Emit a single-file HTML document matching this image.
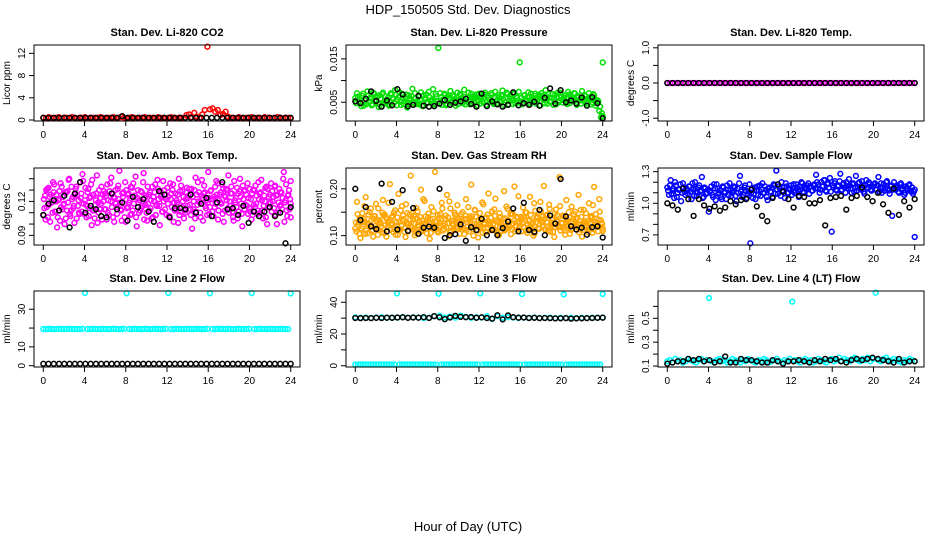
<!DOCTYPE html>
<html><head><meta charset="utf-8"><style>
html,body{margin:0;padding:0;background:#fff}
svg{display:block;font-family:"Liberation Sans",sans-serif}
</style></head><body>
<svg id="chart" width="936" height="540" viewBox="0 0 936 540" xmlns="http://www.w3.org/2000/svg">
<rect width="936" height="540" fill="#fff"/>
<text x="468" y="14" text-anchor="middle" font-size="13">HDP_150505  Std. Dev. Diagnostics</text>
<text x="468" y="531" text-anchor="middle" font-size="13">Hour of Day (UTC)</text>
</svg>
<script>
const xTicks = [0,4,8,12,16,20,24];
const co2Color = [0.4,0.3,0.5,0.4,0.3,0.4,0.5,0.3,0.4,0.4,0.3,0.5,0.4,0.3,0.4,0.4,0.5,0.3,0.4,0.4,0.3,0.4,0.5,0.4,0.3,0.4,0.4,0.5,0.3,0.4,0.6,0.4,0.3,0.4,0.5,0.4,0.3,0.4,0.4,0.5,0.3,0.4,0.4,0.3,0.5,0.4,0.4,0.3,0.4,0.5,0.4,0.3,0.4,0.4,0.3,0.9,1.0,0.5,1.3,0.6,0.4,1.0,1.8,13.2,1.9,2.1,1.5,1.8,0.9,1.1,1.5,0.6,0.4,0.4,0.3,0.5,0.4,0.3,0.4,0.4,0.5,0.3,0.4,0.4,0.3,0.5,0.4,0.4,0.3,0.4,0.5,0.4,0.3,0.4,0.4,0.3];
const co2Black = [0.4,0.4,0.4,0.4,0.4,0.4,0.4,0.4,0.4,0.4,0.4,0.4,0.4,0.4,0.4,0.7,0.4,0.4,0.4,0.4,0.4,0.4,0.4,0.4,0.4,0.4,0.4,0.4,0.4,0.4,0.4,0.4,0.4,0.4,0.4,0.4,0.4,0.4,0.4,0.4,0.4,0.4,0.4,0.4,0.4,0.4,0.4,0.4];
const presColor = [.0060,.0071,.0052,.0048,.0065,.0042,.0058,.0075,.0050,.0062,.0045,.0069,.0055,.0047,.0066,.0040,.0072,.0053,.0049,.0061,.0044,.0068,.0057,.0078,.0043,.0062,.0051,.0070,.0046,.0059,.0038,.0066,.0054,.0081,.0048,.0060,.0052,.0045,.0073,.0041,.0057,.0068,.0049,.0062,.0055,.0080,.0047,.0064,.0175,.0071,.0044,.0053,.0067,.0046,.0060,.0076,.0051,.0063,.0042,.0072,.0056,.0066,.0048,.0079,.0052,.0061,.0045,.0070,.0057,.0049,.0068,.0054,.0047,.0063,.0058,.0072,.0043,.0060,.0051,.0067,.0046,.0074,.0055,.0062,.0050,.0077,.0044,.0061,.0069,.0053,.0058,.0046,.0071,.0064,.0049,.0142,.0060,.0048,.0066,.0054,.0073,.0045,.0062,.0057,.0070,.0051,.0067,.0043,.0065,.0056,.0078,.0047,.0061,.0052,.0069,.0058,.0045,.0072,.0054,.0063,.0049,.0066,.0059,.0074,.0048,.0062,.0055,.0070,.0044,.0061,.0057,.0076,.0053,.0064,.0047,.0071,.0058,.0050,.0066,.0042,.0055,.0030,.0015,.0142];
const presColor2 = [.0048,.0063,.0057,.0041,.0070,.0054,.0046,.0066,.0059,.0043,.0072,.0051,.0062,.0039,.0058,.0069,.0047,.0064,.0055,.0042,.0071,.0060,.0049,.0067,.0056,.0073,.0044,.0061,.0052,.0068,.0045,.0059,.0064,.0050,.0071,.0046,.0063,.0055,.0042,.0066,.0060,.0048,.0074,.0053,.0057,.0045,.0069,.0051,.0047,.0062,.0056,.0070,.0043,.0065,.0058,.0049,.0067,.0054,.0061,.0046,.0069,.0050,.0063,.0045,.0058,.0072,.0053,.0047,.0064,.0060,.0043,.0070,.0059,.0052,.0068,.0044,.0065,.0056,.0071,.0049,.0062,.0047,.0067,.0053,.0064,.0058,.0050,.0072,.0046,.0063,.0055,.0069,.0048,.0060,.0074,.0052,.0045,.0066,.0057,.0062,.0049,.0070,.0054,.0065,.0047,.0059,.0063,.0071,.0058,.0048,.0064,.0069,.0052,.0060,.0044,.0067,.0061,.0050,.0072,.0056,.0062,.0053,.0046,.0068,.0063,.0057,.0071,.0049,.0065,.0054,.0047,.0060,.0066,.0051,.0058,.0062,.0045,.0069,.0055,.0048,.0052,.0040,.0025,.0018];
const presBlack = [.0052,.0048,.0058,.0075,.0053,.0040,.0054,.0043,.0080,.0068,.0041,.0044,.0065,.0042,.0040,.0041,.0047,.0055,.0044,.0049,.0052,.0058,.0046,.0040,.0070,.0041,.0052,.0045,.0040,.0044,.0073,.0043,.0048,.0044,.0051,.0042,.0060,.0082,.0047,.0078,.0050,.0054,.0047,.0061,.0042,.0062,.0048,.0013];
const tempColor = [0,0,0,0,0,0,0,0,0,0,0,0,0,0,0,0,0,0,0,0,0,0,0,0,0,0,0,0,0,0,0,0,0,0,0,0,0,0,0,0,0,0,0,0,0,0,0,0,0,0,0,0,0,0,0,0,0,0,0,0,0,0,0,0,0,0,0,0,0,0,0,0,0,0,0,0,0,0,0,0,0,0,0,0,0,0,0,0,0,0,0,0,0,0,0,0];
const tempBlack = [0,0,0,0,0,0,0,0,0,0,0,0,0,0,0,0,0,0,0,0,0,0,0,0,0,0,0,0,0,0,0,0,0,0,0,0,0,0,0,0,0,0,0,0,0,0,0,0];
const ambColor = [.108,.125,.115,.132,.102,.119,.128,.111,.097,.122,.136,.113,.118,.105,.129,.140,.112,.124,.101,.133,.116,.109,.127,.138,.121,.106,.131,.114,.099,.126,.117,.143,.110,.123,.104,.129,.113,.135,.108,.120,.127,.102,.118,.131,.147,.112,.124,.106,.130,.115,.121,.109,.136,.125,.098,.119,.112,.128,.145,.117,.103,.126,.114,.133,.120,.108,.139,.116,.124,.111,.130,.122,.118,.107,.127,.135,.112,.121,.101,.129,.115,.124,.110,.132,.125,.113,.096,.120,.141,.117,.128,.106,.123,.134,.114,.119,.109,.130,.122,.115,.138,.104,.126,.118,.131,.112,.121,.143,.116,.127,.103,.119,.132,.111,.124,.098,.129,.117,.136,.114,.122,.108,.130,.118,.112,.127,.139,.105,.120,.133,.115,.126,.111,.124,.134,.100,.119,.128,.113,.146,.121,.107,.130,.118];
const ambColor2 = [.122,.104,.131,.117,.126,.110,.135,.120,.106,.129,.115,.124,.100,.128,.119,.109,.133,.114,.126,.105,.121,.137,.111,.118,.132,.116,.107,.124,.139,.112,.121,.101,.130,.118,.126,.113,.125,.110,.129,.141,.106,.123,.115,.134,.119,.103,.128,.137,.114,.127,.108,.132,.118,.142,.123,.110,.129,.116,.104,.125,.133,.112,.121,.106,.128,.117,.131,.099,.126,.138,.113,.108,.124,.136,.115,.102,.127,.119,.140,.111,.129,.105,.122,.116,.131,.108,.124,.130,.111,.137,.119,.125,.103,.128,.121,.146,.115,.122,.107,.133,.126,.112,.119,.135,.102,.124,.130,.110,.127,.111,.138,.123,.105,.129,.118,.134,.113,.126,.109,.131,.104,.130,.115,.125,.137,.110,.121,.116,.132,.100,.124,.119,.129,.114,.108,.126,.131,.117,.123,.102,.135,.125,.113,.138];
const ambColor3 = [.114,.130,.106,.124,.119,.137,.111,.126,.121,.103,.133,.117,.128,.112,.139,.107,.122,.116,.131,.125,.110,.123,.144,.109,.117,.128,.123,.135,.112,.105,.127,.119,.113,.133,.120,.127,.104,.121,.136,.115,.124,.130,.109,.122,.113,.127,.118,.102,.126,.119,.133,.112,.125,.106,.130,.121,.114,.137,.123,.110,.118,.128,.105,.124,.135,.116,.122,.129,.111,.120,.126,.132,.107,.122,.130,.119,.113,.126,.108,.134,.120,.112,.128,.123,.117,.131,.113,.105,.126,.120,.110,.139,.127,.116,.108,.123,.129,.111,.124,.118,.136,.121,.128,.109,.125,.131,.114,.120,.133,.106,.121,.115,.127,.140,.109,.122,.130,.116,.123,.111,.127,.117,.134,.109,.122,.128,.112,.125,.106,.131,.118,.136,.120,.133,.125,.110,.116,.128,.140,.119,.112,.126,.122,.106];
const ambBlack = [.108,.118,.121,.112,.125,.097,.127,.137,.110,.116,.113,.107,.106,.127,.113,.119,.103,.124,.115,.122,.111,.102,.129,.126,.106,.114,.114,.113,.126,.110,.118,.123,.107,.119,.137,.113,.114,.108,.116,.101,.111,.107,.111,.115,.107,.110,.083,.115];
const rhColor = [.115,.172,.128,.095,.148,.136,.182,.105,.124,.158,.112,.141,.168,.102,.133,.119,.176,.145,.098,.127,.210,.139,.108,.154,.121,.189,.113,.163,.135,.097,.148,.125,.228,.117,.142,.106,.152,.131,.198,.110,.174,.124,.139,.093,.161,.118,.236,.129,.107,.146,.170,.121,.136,.187,.099,.158,.126,.112,.144,.165,.133,.117,.150,.103,.178,.128,.141,.209,.114,.155,.124,.096,.148,.120,.167,.137,.108,.190,.126,.152,.115,.179,.132,.101,.140,.122,.195,.113,.157,.131,.103,.146,.205,.119,.138,.127,.109,.160,.134,.149,.117,.183,.125,.100,.153,.141,.115,.172,.128,.206,.112,.145,.166,.120,.137,.097,.156,.130,.225,.118,.143,.111,.176,.129,.104,.162,.135,.151,.119,.187,.124,.098,.155,.127,.113,.169,.139,.106,.204,.146,.121,.178,.133,.110];
const rhColor2 = [.128,.146,.104,.137,.119,.163,.111,.125,.150,.133,.098,.142,.117,.158,.129,.107,.144,.122,.135,.170,.113,.126,.149,.102,.139,.115,.154,.131,.108,.167,.124,.145,.119,.136,.101,.159,.123,.140,.112,.178,.127,.105,.147,.134,.116,.152,.129,.109,.138,.121,.158,.114,.143,.126,.173,.110,.132,.149,.118,.137,.104,.146,.124,.135,.112,.161,.129,.141,.100,.154,.120,.133,.116,.171,.127,.108,.145,.123,.138,.114,.156,.131,.105,.148,.125,.136,.111,.162,.133,.119,.147,.126,.109,.140,.184,.121,.137,.118,.150,.106,.131,.144,.113,.169,.128,.139,.115,.152,.120,.135,.143,.111,.157,.124,.108,.147,.132,.118,.163,.127,.141,.102,.134,.150,.121,.115,.146,.129,.138,.107,.155,.124,.112,.148,.130,.118,.142,.165,.123,.136,.109,.151,.127,.115];
const rhColor3 = [.109,.123,.138,.115,.131,.104,.127,.145,.119,.110,.136,.121,.133,.112,.126,.149,.105,.139,.118,.131,.124,.142,.114,.128,.102,.130,.121,.143,.116,.127,.109,.134,.148,.113,.125,.137,.119,.108,.132,.124,.141,.115,.128,.106,.136,.122,.113,.144,.127,.135,.111,.126,.118,.139,.107,.131,.122,.145,.114,.129,.120,.132,.115,.143,.128,.109,.136,.119,.125,.140,.111,.123,.133,.106,.124,.139,.117,.130,.112,.125,.142,.108,.128,.118,.110,.127,.137,.115,.124,.146,.113,.132,.121,.129,.117,.140,.126,.139,.111,.123,.134,.120,.128,.105,.137,.116,.125,.131,.141,.114,.129,.120,.108,.133,.125,.118,.144,.121,.111,.136,.116,.128,.122,.139,.112,.130,.119,.135,.124,.113,.140,.127,.131,.120,.107,.126,.138,.114,.129,.121,.134,.118,.125,.110];
const rhBlack = [.200,.133,.161,.120,.114,.211,.109,.172,.113,.197,.110,.159,.104,.117,.119,.117,.200,.095,.101,.103,.124,.089,.118,.112,.136,.101,.112,.101,.116,.130,.158,.109,.170,.112,.108,.155,.101,.143,.126,.221,.141,.120,.113,.117,.102,.118,.120,.096];
const flowColor = [1.15,1.08,1.22,1.12,1.05,1.17,1.10,1.13,1.02,1.19,1.11,1.14,1.09,1.16,1.04,1.13,1.20,1.07,1.15,1.11,1.25,1.06,1.14,1.10,0.92,1.12,1.08,1.18,1.03,1.14,1.10,1.06,1.16,1.11,1.04,1.13,1.19,1.07,1.12,1.15,1.02,1.10,1.26,1.13,1.08,1.17,1.05,1.11,0.62,1.14,1.09,1.04,1.16,1.12,1.07,1.19,1.10,1.13,1.03,1.15,1.11,1.06,1.17,1.31,1.09,1.14,1.20,1.12,1.05,1.16,1.10,1.13,1.08,1.18,1.12,1.15,1.06,1.13,1.19,1.10,1.14,1.17,1.09,1.16,1.12,1.18,1.27,1.14,1.10,1.20,1.16,1.22,1.11,1.19,1.24,0.73,1.15,1.21,1.12,1.17,1.28,1.13,1.19,1.10,1.16,1.23,1.14,1.18,1.11,1.26,1.15,1.20,1.13,1.17,1.09,1.22,1.14,1.18,1.12,1.16,1.19,1.13,1.25,1.15,1.10,1.18,1.14,1.21,1.12,1.16,0.88,1.20,1.13,1.17,1.10,1.19,1.14,1.08,1.16,1.12,1.18,1.11,1.09,0.68];
const flowColor2 = [1.12,1.17,1.09,1.14,1.20,1.06,1.13,1.18,1.10,1.15,1.08,1.12,1.16,1.11,1.19,1.07,1.14,1.10,1.17,1.12,1.05,1.15,1.09,1.13,1.11,1.16,1.06,1.14,1.18,1.09,1.12,1.04,1.15,1.10,1.17,1.08,1.13,1.10,1.16,1.07,1.14,1.19,1.11,1.06,1.15,1.12,1.09,1.18,1.10,1.05,1.15,1.12,1.08,1.17,1.13,1.10,1.16,1.06,1.14,1.11,1.15,1.18,1.09,1.13,1.16,1.07,1.12,1.15,1.19,1.10,1.14,1.17,1.14,1.10,1.18,1.12,1.16,1.20,1.11,1.15,1.13,1.19,1.16,1.12,1.17,1.14,1.20,1.18,1.13,1.16,1.22,1.12,1.18,1.15,1.11,1.17,1.19,1.13,1.16,1.21,1.12,1.18,1.15,1.20,1.14,1.17,1.10,1.19,1.15,1.12,1.19,1.14,1.21,1.11,1.17,1.15,1.20,1.13,1.16,1.18,1.13,1.17,1.11,1.19,1.15,1.12,1.20,1.14,1.09,1.17,1.13,1.16,1.15,1.11,1.18,1.13,1.16,1.10,1.14,1.17,1.12,1.15,1.11,1.13];
const flowBlack = [1.00,0.98,0.94,1.14,1.04,0.88,1.04,0.98,0.95,0.97,0.93,0.96,1.02,0.99,1.03,1.04,1.13,0.97,0.88,0.83,1.05,1.18,1.11,1.04,0.96,1.07,1.06,1.00,1.00,1.03,0.79,1.05,1.06,1.07,0.94,1.05,1.07,1.15,1.06,1.02,1.10,0.99,0.91,1.14,0.89,1.02,0.96,1.04];
const line2Color = [19.5,19.4,19.6,19.5,19.4,19.5,19.6,19.5,19.4,19.5,19.6,19.5,19.4,19.5,19.5,19.6,38.7,19.5,19.4,19.6,19.5,19.5,19.4,19.6,19.5,19.4,19.5,19.6,19.5,19.4,19.5,19.6,38.5,19.5,19.4,19.6,19.5,19.5,19.4,19.6,19.5,19.4,19.5,19.6,19.5,19.4,19.5,19.6,38.7,19.5,19.4,19.6,19.5,19.5,19.4,19.6,19.5,19.4,19.5,19.6,19.5,19.4,19.5,19.6,38.5,19.5,19.4,19.6,19.5,19.5,19.4,19.6,19.5,19.4,19.5,19.6,19.5,19.4,19.5,19.6,38.6,19.5,19.4,19.6,19.5,19.5,19.4,19.6,19.5,19.4,19.5,19.6,19.5,19.4,19.5,38.4];
const line2Black = [1,1,1,1,1,1,1,1,1,1,1,1,1,1,1,1,1,1,1,1,1,1,1,1,1,1,1,1,1,1,1,1,1,1,1,1,1,1,1,1,1,1,1,1,1,1,1,1];
const line3Color = [0.8,0.8,0.8,0.8,0.8,0.8,0.8,0.8,0.8,0.8,0.8,0.8,0.8,0.8,0.8,0.8,45.6,0.8,0.8,0.8,0.8,0.8,0.8,0.8,0.8,0.8,0.8,0.8,0.8,0.8,0.8,0.8,45.4,0.8,0.8,0.8,0.8,0.8,0.8,0.8,0.8,0.8,0.8,0.8,0.8,0.8,0.8,0.8,45.6,0.8,0.8,0.8,0.8,0.8,0.8,0.8,0.8,0.8,0.8,0.8,0.8,0.8,0.8,0.8,45.2,0.8,0.8,0.8,0.8,0.8,0.8,0.8,0.8,0.8,0.8,0.8,0.8,0.8,0.8,0.8,44.9,0.8,0.8,0.8,0.8,0.8,0.8,0.8,0.8,0.8,0.8,0.8,0.8,0.8,0.8,45.2];
const line3Band = [30.5,30.2,30.4,30.1,30.3,30.6,30.2,30.4,30.3,30.7,30.2,30.5,30.4,30.1,30.3,31.2,31.5,30.4,31.0,30.3,31.6,30.8,30.2,30.5,30.4,31.2,29.5,31.3,30.2,30.6,30.4,30.1,30.3,30.2,30.4,30.1,30.2,30.3,30.0,30.2,30.1,30.3,30.0,30.2,30.1,30.3,30.2,30.4];
const line3Black = [30.1,30.0,30.1,30.0,30.2,30.1,30.3,30.2,30.4,30.5,30.2,30.4,30.3,30.6,30.1,31.3,30.5,29.3,30.4,31.4,30.8,30.6,30.7,30.2,30.5,30.1,29.7,31.8,29.2,31.7,30.6,30.3,30.4,30.1,30.2,30.0,30.1,30.0,29.8,29.9,30.0,29.7,29.8,29.9,30.0,30.1,30.2,30.3];
const line4Color = [0.14,0.15,0.13,0.16,0.14,0.15,0.13,0.14,0.16,0.15,0.14,0.13,0.15,0.16,0.14,0.15,0.67,0.14,0.13,0.15,0.16,0.14,0.15,0.13,0.14,0.16,0.15,0.14,0.13,0.15,0.14,0.16,0.15,0.14,0.13,0.15,0.14,0.16,0.15,0.13,0.14,0.15,0.16,0.14,0.13,0.15,0.14,0.16,0.64,0.15,0.14,0.13,0.15,0.16,0.14,0.15,0.13,0.14,0.16,0.15,0.14,0.13,0.15,0.16,0.14,0.15,0.17,0.14,0.16,0.15,0.14,0.16,0.17,0.15,0.14,0.16,0.15,0.17,0.14,0.16,0.715,0.15,0.14,0.16,0.17,0.15,0.14,0.16,0.15,0.14,0.13,0.15,0.14,0.16,0.15,0.14];
const line4Black = [0.12,0.13,0.14,0.14,0.16,0.15,0.16,0.14,0.15,0.13,0.14,0.18,0.13,0.13,0.16,0.15,0.15,0.14,0.13,0.13,0.15,0.14,0.12,0.14,0.14,0.15,0.14,0.13,0.15,0.14,0.16,0.15,0.16,0.14,0.13,0.15,0.16,0.15,0.16,0.17,0.16,0.15,0.14,0.13,0.16,0.13,0.14,0.14];

const svg = document.getElementById('chart');
const NS = 'http://www.w3.org/2000/svg';
function mk(tag, attrs, parent){ const e=document.createElementNS(NS,tag); for(const k in attrs) e.setAttribute(k,attrs[k]); (parent||svg).appendChild(e); return e; }

const panels = [
 {key:'co2',title:'Stan. Dev. Li-820 CO2',ylab:'Licor ppm',col:0,row:0,ylim:[-0.18,13.5],ticks:[0,4,8,12],labels:['0','4','8','12'],series:[[co2Color,'#ff0000',0],[co2Black,'#000',0]]},
 {key:'pressure',title:'Stan. Dev. Li-820 Pressure',ylab:'kPa',col:1,row:0,ylim:[0.00068,0.0182],ticks:[0.005,0.010,0.015],labels:['0.005','','0.015'],series:[[presColor,'#00dd00',0],[presColor2,'#00dd00',0.5],[presBlack,'#000',0]]},
 {key:'temp',title:'Stan. Dev. Li-820 Temp.',ylab:'degrees C',col:2,row:0,ylim:[-1.08,1.08],ticks:[-1,-0.5,0,0.5,1],labels:['-1.0','','0.0','','1.0'],series:[[tempColor,'#ff00ff',0],[tempBlack,'#000',0]]},
 {key:'amb',title:'Stan. Dev. Amb. Box Temp.',ylab:'degrees C',col:0,row:1,ylim:[0.0815,0.1495],ticks:[0.09,0.10,0.11,0.12,0.13,0.14],labels:['0.09','','','0.12','',''],series:[[ambColor,'#ff00ff',0],[ambColor2,'#ff00ff',0.33],[ambColor3,'#ff00ff',0.66],[ambBlack,'#000',0]]},
 {key:'rh',title:'Stan. Dev. Gas Stream RH',ylab:'percent',col:1,row:1,ylim:[0.08,0.2444],ticks:[0.10,0.15,0.20],labels:['0.10','','0.20'],series:[[rhColor,'#ffa500',0],[rhColor2,'#ffa500',0.33],[rhColor3,'#ffa500',0.66],[rhBlack,'#000',0]]},
 {key:'sample-flow',title:'Stan. Dev. Sample Flow',ylab:'ml/min',col:2,row:1,ylim:[0.604,1.335],ticks:[0.7,0.8,0.9,1.0,1.1,1.2,1.3],labels:['0.7','','','1.0','','','1.3'],series:[[flowColor,'#0000ff',0],[flowColor2,'#0000ff',0.5],[flowBlack,'#000',0]]},
 {key:'line2',title:'Stan. Dev. Line 2 Flow',ylab:'ml/min',col:0,row:2,ylim:[-0.7,39.7],ticks:[0,10,20,30],labels:['0','10','','30'],series:[[line2Color,'#00ffff',0],[line2Black,'#000',0]]},
 {key:'line3',title:'Stan. Dev. Line 3 Flow',ylab:'ml/min',col:1,row:2,ylim:[-0.8,47.1],ticks:[0,10,20,30,40],labels:['0','','20','','40'],series:[[line3Color,'#00ffff',0],[line3Band,'#00ffff',0],[line3Black,'#000',0]]},
 {key:'line4',title:'Stan. Dev. Line 4 (LT) Flow',ylab:'ml/min',col:2,row:2,ylim:[0.092,0.729],ticks:[0.1,0.2,0.3,0.4,0.5,0.6],labels:['0.1','','0.3','','0.5',''],series:[[line4Color,'#00ffff',0],[line4Black,'#000',0]]}
];
const boxTop=[45,168,291], boxH=[76,77,76], boxW=266, xlim=[-0.9,24.9];

panels.forEach(p=>{
  const L=34+312*p.col, T=boxTop[p.row], H=boxH[p.row], B=T+H;
  const sx=v=>L+(v-xlim[0])/(xlim[1]-xlim[0])*boxW;
  const sy=v=>B-(v-p.ylim[0])/(p.ylim[1]-p.ylim[0])*H;
  const g=mk('g',{});
  
  
  const t=mk('text',{x:L+boxW/2,y:T-9,'text-anchor':'middle','font-size':11,'font-weight':'bold'},g);
  t.textContent=p.title;
  
  
  const yl=mk('text',{x:0,y:0,'text-anchor':'middle','font-size':10,transform:`translate(${L-24},${T+H/2}) rotate(-90)`},g);
  yl.textContent=p.ylab;
  
  
  const pts=mk('g',{},g);
  
  
  p.series.forEach(([vals,color,off])=>{
    const n=vals.length;
    vals.forEach((v,i)=>{
      const hr=Math.min(24,(i+off)*24/(n-1));
      const c=mk('circle',{cx:sx(hr).toFixed(1),cy:sy(v).toFixed(1),r:2.4,fill:'none',stroke:color,'stroke-width':1.5},pts);
      
      
    });
  });
  const box=mk('rect',{x:L,y:T,width:boxW,height:H,fill:'none',stroke:'#000','stroke-width':1},g);
  
  
  mk('line',{x1:sx(0),x2:sx(24),y1:B,y2:B,stroke:'#000'},g);
  xTicks.forEach(h=>{
    mk('line',{x1:sx(h),x2:sx(h),y1:B,y2:B+5,stroke:'#000'},g);
    const tl=mk('text',{x:sx(h),y:B+17,'text-anchor':'middle','font-size':10},g);
    tl.textContent=h;
    
    
  });
  p.ticks.forEach((v,i)=>{
    mk('line',{x1:L-5,x2:L,y1:sy(v),y2:sy(v),stroke:'#000'},g);
    if(p.labels[i]){
      const tl=mk('text',{x:0,y:0,'text-anchor':'middle','font-size':10,transform:`translate(${L-9},${sy(v)}) rotate(-90)`},g);
      tl.textContent=p.labels[i];
      
      
    }
  });
});
</script>
</body></html>
